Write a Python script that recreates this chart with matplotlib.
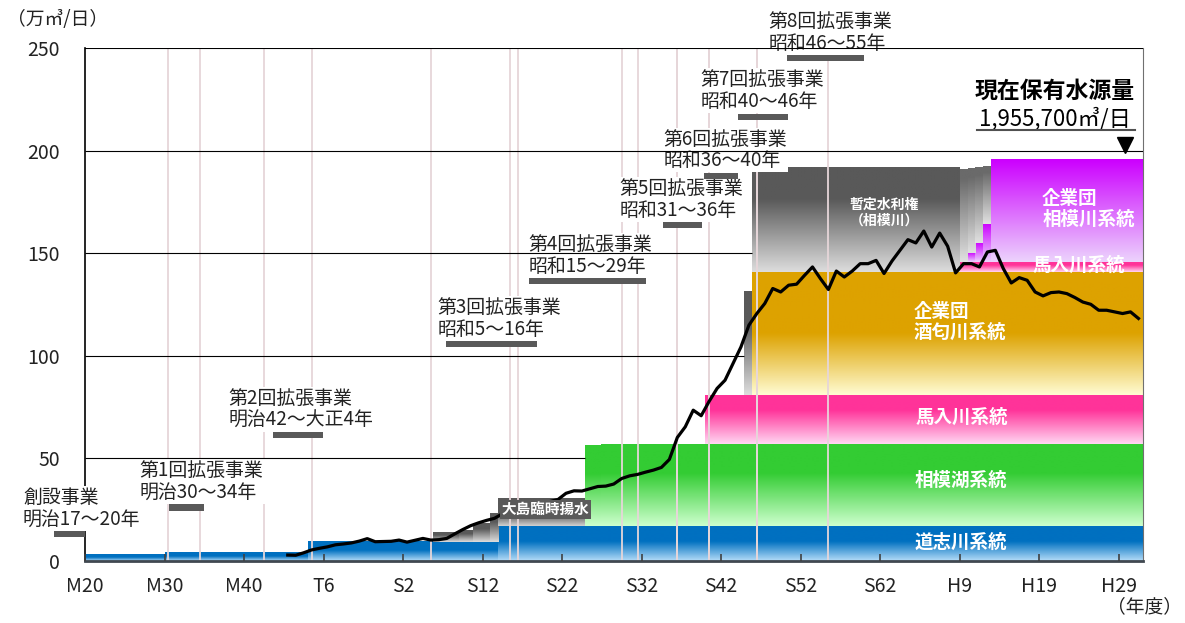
import numpy as np
import matplotlib.pyplot as plt
from matplotlib.colors import to_rgb

plt.rcParams['font.family'] = ['Noto Sans CJK JP', 'DejaVu Sans']

x_end = 2020.07

# 一日最大配水量 (万m3/日), 1912-2019
years = np.arange(1912, 2020)
flow = [2.9, 2.8, 4.0, 5.4, 6.2, 6.9, 7.9, 8.3,
        8.8, 9.7, 10.9, 9.4, 9.5, 9.6, 10.2, 9.2, 10.1, 11.0,
        10.2, 10.4, 11.0, 13.2, 15.3, 17.2, 18.6, 19.8, 20.8, 23.0,
        24.5, 25.8, 26.6, 27.4, 28.2, 29.0, 30.0, 33.0, 34.2, 34.1,
        35.2, 36.3, 36.5, 37.5, 40.2, 41.5, 42.2, 43.3, 44.3, 45.6,
        49.5, 60.2, 65.4, 73.5, 70.8, 77.8, 84.1, 88.1, 96.2, 104.3,
        114.9, 120.6, 125.5, 132.8, 131.1, 134.4, 134.9, 139.2, 143.3, 137.6,
        132.3, 141.3, 138.4, 141.3, 144.9, 144.9, 146.5, 140.1, 146.2, 151.4,
        156.6, 155.0, 160.8, 153.0, 159.8, 153.4, 140.4, 144.9, 144.9, 143.3,
        150.6, 151.4, 142.5, 135.5, 138.1, 136.8, 131.1, 129.2, 130.8, 131.1,
        130.3, 128.4, 126.2, 125.1, 122.2, 122.2, 121.4, 120.6, 121.4, 118.2]

tick_years = list(range(1887, 2018, 10))
tick_labels = ['M20', 'M30', 'M40', 'T6', 'S2', 'S12', 'S22', 'S32', 'S42',
               'S52', 'S62', 'H9', 'H19', 'H29']

# 拡張事業
proj_title = ['創設事業', '第1回拡張事業', '第2回拡張事業', '第3回拡張事業', '第4回拡張事業',
              '第5回拡張事業', '第6回拡張事業', '第7回拡張事業', '第8回拡張事業']
proj_period = ['明治17～20年', '明治30～34年', '明治42～大正4年', '昭和5～16年', '昭和15～29年',
               '昭和31～36年', '昭和36～40年', '昭和40～46年', '昭和46～55年']
proj_start = [1884, 1897, 1909, 1930, 1940, 1956, 1961, 1965, 1971]
proj_end = [1887, 1901, 1915, 1941, 1954, 1961, 1965, 1971, 1980]
bar_x0 = [1883.1, 1897.6, 1910.6, 1932.4, 1942.8, 1959.7, 1964.8, 1969.1, 1975.3]
bar_x1 = [1887.0, 1902.0, 1916.9, 1943.8, 1957.6, 1964.6, 1969.1, 1975.4, 1985.0]
bar_y = [13.1, 26.1, 61.3, 105.6, 136.3, 163.6, 187.7, 216.5, 245.0]
label_x = [1879.2, 1893.9, 1905.0, 1931.3, 1942.8, 1954.2, 1959.8, 1964.4, 1973.0]

# 水源 (区間の境界, 下端, 上端)
doshi_edges = [1887, 1897, 1915, 1939, x_end]
doshi_top = [3.0, 3.9, 9.5, 17.1]
third_edges = [1930.8, 1934.0, 1935.8, 1937.9, 1939.0]
third_top = [14.3, 15.2, 18.6, 23.3]
oshima_edges = [1939.0, 1949.9]
oshima_top = [30.5]
sagamiko_edges = [1949.9, 1951.9, x_end]
sagamiko_top = [56.3, 57.0]
banyu_edges = [1965.0, x_end]
banyu_top = [80.8]
extra_edges = [1969.9, 1970.9]
extra_top = [131.1]
sakawa_edges = [1970.9, x_end]
sakawa_top = [140.8]
zantei_edges = [1970.9, 1997.0]
zantei_top = [191.6]
banyu2_edges = [1997.0, x_end]
banyu2_top = [145.5]
sagami_edges = [1998, 1999, 2000, 2001, x_end]
sagami_top = [150.0, 154.8, 164.2, 195.6]
step_edges = [1997, 1998, 1999, 2000, 2001]
step_top = [190.6, 191.2, 191.8, 192.4]

BLUE = ('#0070c0', '#b4dcf8', 0.45)
GREEN = ('#33cc33', '#ccffcc', 0.35)
PINK = ('#ff3399', '#ffd6f2', 0.3)
GOLD = ('#dda200', '#fffbd0', 0.5)
GRAY = ('#595959', '#dcdcdc', 0.3)
MAGENTA = ('#cc00ff', '#ecd2fc', 0.0)

fig = plt.figure(figsize=(11.85, 6.23), dpi=100)
ax = fig.add_axes([85 / 1185, 62 / 623, 1058 / 1185, 513 / 623])

rects = []


def band(edges, bottom, top, style, z=1):
    c0, c1, solid = style
    c0, c1 = np.array(to_rgb(c0)), np.array(to_rgb(c1))
    f = np.clip((np.linspace(0, 1, 64) - solid) / (1 - solid), 0, 1)
    img = (c0 + f[:, None] * (c1 - c0))[:, None, :]
    bottom = np.broadcast_to(bottom, len(top))
    for x0, x1, b, t in zip(edges[:-1], edges[1:], bottom, top):
        ax.imshow(img, extent=(x0, x1, b, t), aspect='auto',
                  interpolation='bilinear', zorder=z)
        rects.append((x0, x1, b, t))


band(doshi_edges, 0, doshi_top, BLUE)
band(third_edges, doshi_top[2], third_top, GRAY)
band(oshima_edges, doshi_top[3], oshima_top, ('#595959', '#d0d0d0', 0.6))
band(sagamiko_edges, doshi_top[3], sagamiko_top, GREEN)
band(banyu_edges, sagamiko_top[-1], banyu_top, PINK)
band(extra_edges, banyu_top[0], extra_top, GRAY)
band(sakawa_edges, banyu_top[0], sakawa_top, GOLD)
band(zantei_edges, sakawa_top[0], zantei_top, GRAY)
band(banyu2_edges, sakawa_top[0], banyu2_top, PINK)
band(sagami_edges, banyu2_top[0], sagami_top, MAGENTA)
band(step_edges, banyu2_top + sagami_top[:-1], step_top, ('#6a6a6a', '#e0e0e0', 0.1))

# 事業の区切り
for yr in proj_start[1:] + proj_end[1:]:
    ax.axvline(yr + 0.5, color='#e6d6d9', lw=1.3, zorder=2)

bars = ax.barh(bar_y, np.subtract(bar_x1, bar_x0), left=bar_x0, height=3.0,
               color='#595959', zorder=3.2)
for p in bars:
    p.set_clip_on(False)

for title, period, lx, y in zip(proj_title, proj_period, label_x, bar_y):
    ax.text(lx, y + 2.2, f'{title}\n{period}', ha='left', va='bottom', fontsize=13.6,
            linespacing=1.05, color='#222222', zorder=3,
            bbox=dict(boxstyle='square,pad=0.05', fc='white', ec='none'))

# 横線 (塗りに隠れる所まで)
for lv in [50, 100, 150, 200, 250]:
    stops = [r[0] for r in rects if r[2] < lv < r[3]]
    ax.hlines(lv, 1887, min(stops, default=x_end), color='black',
              lw=1.5 if lv == 250 else 0.8, zorder=3.5)

ax.plot(years + 0.5, flow, color='black', lw=2.3, zorder=4)

ax.text(1944.9, 25.3, '大島臨時揚水', ha='center', va='center', fontsize=10.5,
        fontweight='bold', color='white', zorder=5,
        bbox=dict(boxstyle='square,pad=0.1', fc='#5a5a5a', ec='none'))

lab = dict(ha='center', va='center', fontsize=13.3, fontweight='bold',
           color='white', zorder=5, linespacing=1.1)
ax.text(1997.1, 9.1, '道志川系統', **lab)
ax.text(1997.1, 39.4, '相模湖系統', **lab)
ax.text(1997.3, 69.8, '馬入川系統', **lab)
ax.text(1997.0, 116.5, '企業団\n酒匂川系統', multialignment='left', **lab)
ax.text(2013.2, 171.7, '企業団\n相模川系統', multialignment='left', **lab)
ax.text(2012.0, 144.1, '馬入川系統', **lab)
ax.text(1987.5, 169.7, '暫定水利権\n（相模川）', ha='center', va='center', fontsize=10,
        fontweight='bold', color='white', zorder=5, linespacing=1.2)

ax.text(2009.0, 228.8, '現在保有水源量', ha='center', va='center', fontsize=16.5,
        fontweight='bold', zorder=5)
ax.text(2009.0, 215.7, '1,955,700㎥/日', ha='center', va='center', fontsize=16,
        zorder=5)
ax.plot([1999.2, 2019.1], [210.2, 210.2], color='#505050', lw=1.5, zorder=5)
ax.plot(2017.8, 202.5, marker='v', ms=12, color='black', zorder=5, clip_on=False)

ax.set_xlim(1887, x_end)
ax.set_ylim(0, 250)
ax.set_axisbelow(False)
ax.set_yticks([0, 50, 100, 150, 200, 250])
ax.tick_params(axis='y', length=0, pad=18, labelsize=14, labelcolor='#222222')
ax.set_xticks(tick_years, tick_labels)
ax.tick_params(axis='x', direction='in', length=5, width=1.2, color='#404040',
               pad=11, labelsize=14, labelcolor='#222222')
ax.spines['top'].set_visible(False)
ax.spines['right'].set_color('#707070')
ax.spines['right'].set_linewidth(0.8)
ax.spines['left'].set_linewidth(1.2)
ax.spines['bottom'].set_color('#404850')
ax.spines['bottom'].set_linewidth(2)

fig.text(7 / 1185, 1 - 20 / 623, '（万㎥/日）', ha='left', va='center', fontsize=13.5,
         color='#222222')
fig.text(1145 / 1185, 1 - 607 / 623, '（年度）', ha='center', va='center', fontsize=13.5,
         color='#222222')

fig.savefig('out.png', dpi=100)
